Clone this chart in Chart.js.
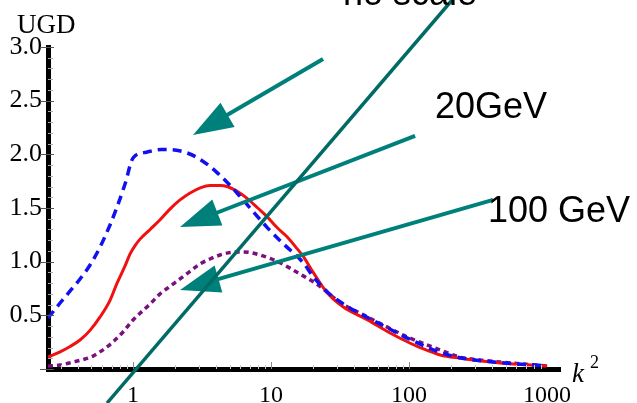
<!DOCTYPE html>
<html>
<head>
<meta charset="utf-8">
<script src="https://cdn.jsdelivr.net/npm/chart.js@4"></script>
<style>
  html, body { margin: 0; padding: 0; background: #fff; }
  #wrap { width: 637px; height: 403px; position: relative; }
</style>
</head>
<body>
<div id="wrap"><canvas id="c" width="637" height="403"></canvas></div>
<script>
// ---- data (k^2 values and UGD values) ----
const blueK = [0.242,0.296,0.35,0.413,0.488,0.577,0.681,0.766,0.875,1,1.25,1.6,2,2.5,2.91,3.5,4.06,4.8,5.67,7.05,9.35,12.2,17.1,20.2,25.5,33,50,73,100,168,234,456,1000];
const blueV = [0.475,0.615,0.727,0.839,0.969,1.137,1.342,1.51,1.724,1.966,2.02,2.045,2.04,2.01,1.97,1.90,1.83,1.74,1.64,1.50,1.32,1.17,0.99,0.86,0.72,0.61,0.48,0.37,0.28,0.155,0.105,0.06,0.03];

const redK = [0.242,0.296,0.35,0.413,0.488,0.577,0.681,0.766,0.875,0.95,1.034,1.124,1.33,1.57,1.85,2.19,2.59,3.1,3.61,4.3,4.8,5.6,6.7,8,9.35,11,13.1,15,17.1,20.2,25.5,33.2,49.6,72.8,102,120,168,234,456,1000];
const redV = [0.11,0.16,0.21,0.27,0.36,0.485,0.64,0.80,0.96,1.07,1.15,1.21,1.30,1.39,1.49,1.575,1.64,1.69,1.71,1.71,1.70,1.66,1.59,1.50,1.42,1.32,1.23,1.14,1.05,0.90,0.71,0.58,0.46,0.335,0.24,0.20,0.13,0.10,0.056,0.03];

const purpleK = [0.242,0.296,0.367,0.449,0.513,0.577,0.648,0.74,0.846,1,1.124,1.328,1.569,1.854,2.19,2.59,3.06,3.61,4.27,5.05,5.96,7.04,8.32,9.83,11.6,13.7,16.2,19.2,22.6,28.1,34.9,44.2,64.8,96.7,120,168,234,327,456,1000];
const purpleV = [0.028,0.037,0.065,0.093,0.12,0.16,0.205,0.27,0.345,0.457,0.52,0.605,0.70,0.77,0.84,0.91,0.98,1.025,1.062,1.085,1.09,1.085,1.062,1.03,0.99,0.94,0.885,0.83,0.77,0.67,0.587,0.52,0.41,0.30,0.25,0.177,0.11,0.084,0.065,0.028];

const xTicks = [1, 10, 100, 1000];
const yTicks = [0.5, 1.0, 1.5, 2.0, 2.5, 3.0];

// annotations in data coordinates [k^2, UGD]
const longLine = [[0.648, -0.317], [205, 3.438]];
const arrows = [
  [[23.8, 2.888], [2.72, 2.180]],
  [[110.5, 2.171], [2.19, 1.323]],
  [[406, 1.575], [2.19, 0.736]]
];
const labels = [
  ['no scale', [33.2, 3.391]],
  ['20GeV', [154, 2.339]],
  ['100 GeV', [373, 1.370]]
];
const yTitle = 'UGD';
const xTitle = 'k';
const xTitleSup = '2';

const toPts = (ks, vs) => ks.map((k, i) => ({ x: k, y: vs[i] }));

const annot = {
  id: 'annot',
  afterDatasetsDraw(chart) {
    const { ctx, chartArea: ca, scales: { x, y } } = chart;
    const P = p => [x.getPixelForValue(p[0]), y.getPixelForValue(p[1])];
    ctx.save();
    // y axis ticks
    for (let i = 0; i <= 30; i++) {
      const v = i / 10;
      const py = Math.round(y.getPixelForValue(v)) + 0.5;
      const major = i % 5 === 0;
      ctx.beginPath();
      ctx.strokeStyle = major ? '#555' : '#aaa';
      ctx.lineWidth = 1;
      ctx.moveTo(ca.left - (major ? 8 : 0), py);
      ctx.lineTo(ca.left + (major ? 6 : 5), py);
      ctx.stroke();
    }
    // x axis ticks
    for (let d = 0; d < 4; d++) {
      for (let m = 1; m <= 9; m++) {
        const v = Math.pow(10, d - 1) * m;
        if (v < x.min || v > x.max) continue;
        const px = Math.round(x.getPixelForValue(v)) + 0.5;
        ctx.beginPath();
        ctx.strokeStyle = m === 1 ? '#888' : '#ccc';
        ctx.moveTo(px, ca.bottom);
        ctx.lineTo(px, ca.bottom - (m === 1 ? 7 : 4));
        ctx.stroke();
      }
    }
    // arrows
    ctx.fillStyle = '#00807b';
    ctx.strokeStyle = '#00807b';
    arrows.forEach(([t, h]) => {
      const [x0, y0] = P(t), [x1, y1] = P(h);
      const dx = x1 - x0, dy = y1 - y0, L = Math.hypot(dx, dy);
      const ux = dx / L, uy = dy / L;
      const hl = 40, hw = 14;
      const bx = x1 - ux * hl, by = y1 - uy * hl;
      ctx.beginPath();
      ctx.lineWidth = 4;
      ctx.moveTo(x0, y0);
      ctx.lineTo(bx + ux * 4, by + uy * 4);
      ctx.stroke();
      ctx.beginPath();
      ctx.moveTo(x1, y1);
      ctx.lineTo(bx - uy * hw, by + ux * hw);
      ctx.lineTo(bx + uy * hw, by - ux * hw);
      ctx.closePath();
      ctx.fill();
    });
    // long line
    ctx.beginPath();
    ctx.strokeStyle = '#006b64';
    ctx.lineWidth = 3.5;
    const a = P(longLine[0]), b = P(longLine[1]);
    ctx.moveTo(a[0], a[1]);
    ctx.lineTo(b[0], b[1]);
    ctx.stroke();
    // labels
    ctx.fillStyle = '#000';
    ctx.textBaseline = 'alphabetic';
    ctx.textAlign = 'left';
    ctx.font = '36px "Liberation Sans", Arial, sans-serif';
    labels.forEach(([t, p]) => {
      const q = P(p);
      ctx.fillText(t, q[0], q[1]);
    });
    // axis titles
    ctx.font = '27px "Liberation Serif", "Times New Roman", serif';
    ctx.fillText(yTitle, ca.left - 31, ca.top - 14);
    ctx.font = 'italic 27px "Liberation Serif", "Times New Roman", serif';
    ctx.fillText(xTitle, ca.right + 12, ca.bottom + 13);
    ctx.font = '18px "Liberation Serif", "Times New Roman", serif';
    ctx.fillText(xTitleSup, ca.right + 30, ca.bottom - 1);
    ctx.restore();
  }
};

new Chart(document.getElementById('c'), {
  type: 'line',
  data: {
    datasets: [
      { data: toPts(blueK, blueV), borderColor: '#1010f0', borderWidth: 3.5, borderDash: [9, 6], pointRadius: 0, cubicInterpolationMode: 'monotone', fill: false },
      { data: toPts(redK, redV), borderColor: '#f01010', borderWidth: 3, pointRadius: 0, cubicInterpolationMode: 'monotone', fill: false },
      { data: toPts(purpleK, purpleV), borderColor: '#7a1080', borderWidth: 3.5, borderDash: [5, 4], pointRadius: 0, cubicInterpolationMode: 'monotone', fill: false }
    ]
  },
  options: {
    responsive: false,
    animation: false,
    devicePixelRatio: 1,
    layout: { padding: { top: 47, right: 77, left: 0, bottom: 0 } },
    plugins: { legend: { display: false }, tooltip: { enabled: false }, title: { display: false } },
    scales: {
      x: {
        type: 'logarithmic',
        min: 0.242,
        max: 1240,
        grid: { display: false, drawTicks: false },
        border: { display: true, color: '#000', width: 5 },
        ticks: {
          autoSkip: false, maxRotation: 0, padding: 12, color: '#000',
          font: { family: '"Liberation Serif", "Times New Roman", serif', size: 24 },
          callback: v => String(v)
        },
        afterBuildTicks: s => { s.ticks = xTicks.map(v => ({ value: v })); },
        afterFit: s => { s.height = 34; }
      },
      y: {
        type: 'linear',
        min: 0,
        max: 3,
        grid: { display: false, drawTicks: false },
        border: { display: true, color: '#000', width: 5 },
        ticks: {
          padding: 6, color: '#000',
          font: { family: '"Liberation Serif", "Times New Roman", serif', size: 26 },
          callback: v => Number(v).toFixed(1)
        },
        afterBuildTicks: s => { s.ticks = yTicks.map(v => ({ value: v })); },
        afterFit: s => { s.width = 48; }
      }
    }
  },
  plugins: [annot]
});
</script>
</body>
</html>
